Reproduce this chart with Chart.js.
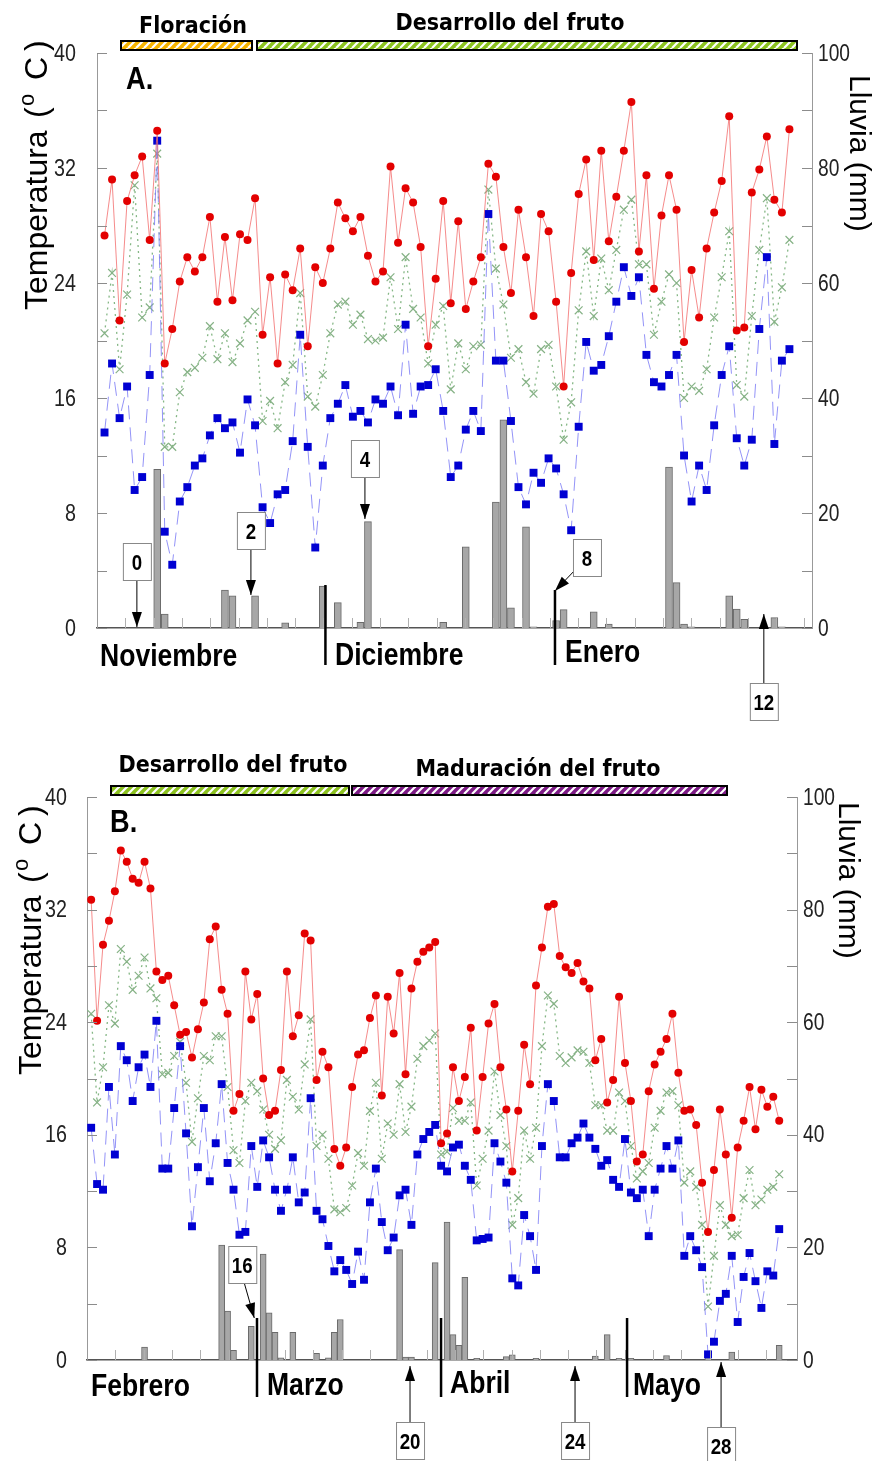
<!DOCTYPE html>
<html>
<head>
<meta charset="utf-8">
<script src="https://cdn.jsdelivr.net/npm/chart.js@4.4.0/dist/chart.umd.min.js"></script>
<style>
  html, body { margin: 0; padding: 0; background: #fff; }
  #wrap { position: relative; width: 882px; height: 1461px; }
  #chartA { position: absolute; left: 0; top: 0; }
  #chartB { position: absolute; left: 0; top: 730px; }
</style>
</head>
<body>
<div id="wrap">
  <canvas id="chartA" width="882" height="730"></canvas>
  <canvas id="chartB" width="882" height="731"></canvas>
</div>
<script>
// Panel A: 1 Nov - 31 Jan (daily values)
const maxA = [27.3,31.2,21.4,29.7,31.5,32.8,27.0,34.6,18.4,20.8, 24.1,25.8,24.8,25.8,28.6,22.7,27.2,22.8,27.4,27.0,
  29.9,20.4,24.4,18.4,24.6,23.5,26.4,19.6,25.1,24.0, 26.4,29.6,28.5,27.6,28.6,25.9,24.1,24.8,32.1,26.8,
  30.6,29.6,26.5,19.6,24.3,29.7,22.6,28.3,22.2,24.1, 25.8,32.3,31.4,26.5,23.3,29.1,25.8,21.7,28.8,27.6,
  22.7,16.8,24.7,30.2,32.6,25.6,33.2,26.9,30.0,33.2, 36.6,26.2,31.5,23.6,28.7,31.5,29.1,19.9,24.9,21.6,
  26.4,28.9,31.1,35.6,20.7,20.9,30.3,31.9,34.2,29.8, 28.9,34.7];
const minA = [13.6,18.4,14.6,16.8,9.6,10.5,17.6,33.9,6.7,4.4, 8.8,9.8,11.3,11.8,13.4,14.6,13.9,14.3,12.2,15.9,
  14.1,8.4,7.3,9.3,9.6,13.0,20.4,12.6,5.6,11.3, 14.6,15.6,16.9,14.7,15.1,14.3,15.9,15.6,16.8,14.8,
  21.1,14.9,16.8,16.9,18.0,15.1,10.5,11.3,13.8,15.1, 13.7,28.8,18.6,18.6,14.4,9.8,8.6,10.8,10.1,11.8,
  11.1,9.3,6.8,14.0,19.9,17.9,18.3,20.3,22.7,25.1, 23.1,24.4,19.0,17.1,16.8,17.6,19.0,12.0,8.8,11.3,
  9.6,14.1,17.6,19.6,13.2,11.3,13.1,20.8,25.8,12.8, 18.6,19.4];
const meanA = [20.5,24.7,18.0,23.2,30.8,21.6,22.3,33.0,12.6,12.6, 16.4,17.8,18.1,18.8,21.0,18.7,20.5,18.5,19.8,21.4,
  22.0,14.4,15.8,13.9,17.1,18.3,23.3,16.1,15.4,17.6, 20.5,22.5,22.7,21.1,21.8,20.1,20.0,20.2,24.4,20.8,
  25.8,22.2,21.6,18.4,21.1,22.4,16.6,19.8,18.0,19.6, 19.7,30.5,25.0,22.5,18.8,19.4,17.1,16.3,19.4,19.7,
  16.8,13.1,15.7,22.1,26.2,21.7,25.7,23.5,26.3,29.1, 29.8,25.3,25.3,20.4,22.7,24.6,24.0,16.0,16.8,16.5,
  18.0,21.6,24.4,27.6,16.9,16.1,21.7,26.3,29.9,21.3, 23.7,27.0];
const rainDaysA = [8,9,17,18,21,25,30,32,35,36,46,49,53,54,55,57,58,61,62,66,68,76,77,78,79,84,85,86,90,91];
const rainA =     [27.6,2.4,6.6,5.6,5.6,0.9,7.3,4.4,1.0,18.5,1.0,14.1,21.9,36.2,3.5,17.6,0.2,1.3,3.2,2.8,0.7,28.0,7.9,0.7,0.2,5.6,3.3,1.5,1.8,0.2];

// Panel B: 1 Feb - end of May (daily values)
const maxB = [32.7,24.1,29.5,31.2,33.3,36.2,35.4,34.2,33.9,35.4, 33.5,27.6,27.0,27.3,25.2,23.1,23.3,21.5,23.5,25.4,
  29.9,30.8,26.3,24.6,17.7,18.9,27.6,24.2,26.0,20.0, 17.4,17.7,20.6,27.6,23.0,24.5,30.3,29.8,19.9,21.9,
  20.8,15.0,13.8,15.1,19.4,21.7,22.0,24.3,25.9,18.8, 25.8,23.2,27.5,20.3,26.4,28.3,29.0,29.3,29.7,15.4,
  16.1,20.8,18.4,20.1,23.6,16.3,20.1,23.9,25.3,20.8, 17.8,13.4,17.7,22.4,19.6,26.6,29.3,32.2,32.4,28.7,
  27.9,27.5,28.2,26.9,26.4,21.3,22.8,18.3,19.9,25.8, 21.1,18.4,14.1,14.6,19.1,21.0,21.9,22.8,24.6,20.4,
  17.7,17.8,16.7,12.6,9.1,13.5,17.8,14.6,10.1,15.1, 17.0,19.4,16.4,19.2,18.0,18.7,17.0];
const minB = [16.5,12.5,12.1,19.4,14.6,22.3,21.3,18.4,20.8,21.7, 19.4,24.1,13.6,13.6,17.9,22.3,16.1,9.5,13.7,17.9,
  12.7,15.4,19.6,14.0,12.1,8.9,9.1,15.2,12.3,15.6, 14.4,12.1,10.6,12.1,14.4,11.2,11.9,18.6,10.6,10.0,
  8.1,6.3,7.1,6.4,5.4,7.7,5.7,11.2,13.6,9.8, 7.8,8.7,11.7,12.1,9.6,14.6,15.7,16.2,16.7,13.8,
  13.4,15.1,15.3,13.8,12.8,8.5,8.6,8.7,15.4,14.1, 12.6,5.8,5.3,10.3,8.8,6.4,15.2,19.6,18.4,14.4,
  14.4,15.4,15.8,16.8,15.8,15.0,13.8,14.2,12.8,12.3, 15.7,11.9,11.5,12.1,8.8,12.1,13.6,15.2,13.6,15.6,
  7.4,8.8,7.8,6.6,0.4,1.3,4.2,4.7,7.4,2.7, 5.9,7.6,5.6,3.7,6.3,6.0,9.3];
const meanB = [24.6,18.3,20.8,25.2,23.9,29.2,28.3,26.3,27.3,28.6, 26.4,25.7,20.3,20.4,21.6,22.6,19.7,15.5,18.6,21.6,
  21.3,23.0,23.0,19.4,14.9,14.0,18.4,19.7,19.1,17.8, 16.0,15.0,15.6,19.9,18.7,17.8,21.0,24.2,15.2,16.0,
  14.3,10.7,10.5,10.8,12.4,14.7,13.8,17.7,19.7,14.3, 16.8,16.0,19.6,16.2,18.0,21.4,22.3,22.7,23.2,14.6,
  14.8,17.9,17.0,17.0,18.3,12.4,14.3,16.3,20.5,17.4, 15.2,9.6,11.5,16.3,14.3,16.5,22.3,25.9,25.3,21.6,
  21.1,21.5,22.0,21.9,21.1,18.1,18.1,16.3,16.3,19.0, 18.4,15.2,12.9,13.4,14.0,16.5,17.7,19.0,19.1,18.1,
  12.6,13.4,12.3,9.6,3.8,7.4,11.0,9.6,8.8,8.9, 11.5,13.5,11.0,11.4,12.1,12.3,13.2];
const rainDaysB = [10,23,24,25,28,30,31,32,33,35,39,41,42,43,53,54,55,59,61,62,63,64,66,71,72,76,86,88,90,92,98,105,109,117];
const rainB =     [2.3,20.4,8.7,1.7,6.0,18.8,8.4,4.9,0.4,4.9,1.2,0.4,4.9,7.2,19.6,0.5,0.5,17.3,24.5,4.5,2.6,14.7,0.3,0.6,0.9,0.3,0.7,4.5,0.3,0.3,0.8,0.7,1.4,2.6];

const tempTicks = [0, 8, 16, 24, 32, 40];
const rainTicks = [0, 20, 40, 60, 80, 100];

// annotations (day positions)
const monthsA = ['Noviembre', 'Diciembre', 'Enero'];
const monthLinesA = [30.35, 60.85];
const weekLabelsA = ['0', '2', '4', '8', '12'];
const weekDaysA = [5.3, 20.45, 35.6, 60.85, 88.6];
const monthsB = ['Febrero', 'Marzo', 'Abril', 'Mayo'];
const monthLinesB = [28.96, 59.99, 91.35];
const weekLabelsB = ['16', '20', '24', '28'];
const weekDaysB = [28.5, 54.76, 82.58, 107.2];

const SANS = "'Liberation Sans',Arial,sans-serif";
const COND = "'DejaVu Sans Condensed','DejaVu Sans',sans-serif";

function pts(values) { return values.map((v, i) => ({ x: i + 1, y: v })); }
function rainPts(days, vals) { return days.map((d, i) => ({ x: d, y: vals[i] })); }

function stripes(color) {
  const c = document.createElement('canvas');
  c.width = 8; c.height = 8;
  const g = c.getContext('2d');
  g.fillStyle = color; g.fillRect(0, 0, 8, 8);
  g.strokeStyle = '#ffffff'; g.lineWidth = 2.2;
  for (let k = -8; k <= 16; k += 8) { g.beginPath(); g.moveTo(k, 8); g.lineTo(k + 8, 0); g.stroke(); }
  return c;
}

function line(ctx, x1, y1, x2, y2) { ctx.beginPath(); ctx.moveTo(x1, y1); ctx.lineTo(x2, y2); ctx.stroke(); }

// Arial-Narrow look: Liberation Sans squeezed horizontally
function narrow(ctx, text, x, y, font, sx, align, base) {
  ctx.save();
  ctx.translate(x, y); ctx.scale(sx, 1);
  ctx.font = font; ctx.textAlign = align || 'left'; ctx.textBaseline = base || 'alphabetic';
  ctx.fillText(text, 0, 0);
  ctx.restore();
}

function arrow(ctx, x1, y1, x2, y2) {
  ctx.strokeStyle = '#000'; ctx.fillStyle = '#000'; ctx.lineWidth = 1;
  line(ctx, x1, y1, x2, y2);
  const a = Math.atan2(y2 - y1, x2 - x1), L = 15, W = 5;
  ctx.beginPath();
  ctx.moveTo(x2, y2);
  ctx.lineTo(x2 - L * Math.cos(a) + W * Math.sin(a), y2 - L * Math.sin(a) - W * Math.cos(a));
  ctx.lineTo(x2 - L * Math.cos(a) - W * Math.sin(a), y2 - L * Math.sin(a) + W * Math.cos(a));
  ctx.closePath(); ctx.fill();
}

function box(ctx, cx, top, text) {
  const w = 28, h = 37;
  ctx.fillStyle = '#fff'; ctx.strokeStyle = '#888'; ctx.lineWidth = 1;
  ctx.fillRect(cx - w / 2, top, w, h); ctx.strokeRect(cx - w / 2 + 0.5, top + 0.5, w, h);
  ctx.fillStyle = '#000';
  narrow(ctx, text, cx, top + h / 2 + 8, 'bold 22px ' + SANS, 0.85, 'center');
}

// parts: [text, offset along the text, size, raise]
function title(ctx, x, y, angle, parts) {
  ctx.save();
  ctx.translate(x, y); ctx.rotate(angle);
  ctx.fillStyle = '#000'; ctx.textAlign = 'left'; ctx.textBaseline = 'alphabetic';
  parts.forEach(p => { ctx.font = p[2] + 'px ' + SANS; ctx.fillText(p[0], p[1], -(p[3] || 0)); });
  ctx.restore();
}

const decor = {
  id: 'decor',
  afterDraw(chart, args, o) {
    const ctx = chart.ctx, ca = chart.chartArea;
    const xs = chart.scales.x, ys = chart.scales.y, y2 = chart.scales.y2;
    ctx.save();
    // inward tick marks
    ctx.strokeStyle = '#8c8c8c'; ctx.lineWidth = 1;
    for (let v = 0; v <= 40; v += 4) { const p = Math.round(ys.getPixelForValue(v)) + 0.5; line(ctx, ca.left, p, ca.left + 10, p); }
    for (let v = 0; v <= 100; v += 10) { const p = Math.round(y2.getPixelForValue(v)) + 0.5; line(ctx, ca.right - 10, p, ca.right, p); }
    ctx.strokeStyle = '#b0b0b0';
    for (let px = ca.left + 28.3; px < ca.right - 5; px += 28.3) line(ctx, Math.round(px) + 0.5, ca.bottom, Math.round(px) + 0.5, ca.bottom - 10);

    // tick labels
    ctx.fillStyle = '#222';
    tempTicks.forEach(v => narrow(ctx, String(v), ca.left - o.padL, ys.getPixelForValue(v) + 1, '24px ' + SANS, 0.82, 'right', 'middle'));
    rainTicks.forEach(v => narrow(ctx, String(v), ca.right + 6, y2.getPixelForValue(v) + 1, '24px ' + SANS, 0.8, 'left', 'middle'));

    // phase bars
    o.phases.forEach(p => {
      ctx.fillStyle = ctx.createPattern(stripes(p.color), 'repeat');
      ctx.fillRect(p.x1, p.y, p.x2 - p.x1, 9);
      ctx.strokeStyle = '#000'; ctx.lineWidth = 2;
      ctx.strokeRect(p.x1, p.y, p.x2 - p.x1, 9);
      ctx.fillStyle = '#000';
      ctx.font = 'bold 23px ' + COND; ctx.textAlign = 'center'; ctx.textBaseline = 'alphabetic';
      ctx.fillText(p.label, p.lx, p.ly);
    });

    // panel letter
    ctx.fillStyle = '#000';
    narrow(ctx, o.letter, o.letterX, o.letterY, 'bold 32px ' + SANS, 0.85, 'left');

    // month separators and names
    ctx.strokeStyle = '#000'; ctx.lineWidth = 2.5;
    o.monthLines.forEach((d, i) => {
      const px = xs.getPixelForValue(d);
      line(ctx, px, o.monthLineTop[i], px, ca.bottom + 37);
    });
    o.months.forEach((m, i) => narrow(ctx, m, o.monthX[i], o.monthY[i], 'bold 32px ' + SANS, 0.83, 'left'));

    // week markers
    o.weeks.forEach(w => {
      const px = xs.getPixelForValue(w.day);
      if (w.below) {
        arrow(ctx, px, w.boxTop, px, w.tip);
        box(ctx, px, w.boxTop, w.label);
      } else {
        const bx = px + (w.dx || 0);
        arrow(ctx, bx + (w.sx || 0), w.boxTop + 37 + (w.sy || 0), px, w.tip);
        box(ctx, bx, w.boxTop, w.label);
      }
    });

    // axis titles
    const L = o.leftTitle, R = o.rightTitle;
    title(ctx, L[0], L[1], -Math.PI / 2,
      [['Temperatura', 0, 32], ['(', 192, 32], ['o', 204, 22, 13], ['C', 230, 32], [')', 259, 32]]);
    title(ctx, R[0], R[1], Math.PI / 2, [['Lluvia (mm)', 0, 30]]);
    ctx.restore();
  }
};

function makePanel(id, d) {
  return new Chart(document.getElementById(id), {
    type: 'line',
    data: {
      datasets: [
        { label: 'Máxima', data: pts(d.max), yAxisID: 'y', order: 0,
          borderColor: 'rgba(242,110,110,0.8)', borderWidth: 1, tension: 0,
          pointStyle: 'circle', pointRadius: 4, pointBackgroundColor: '#e30000', pointBorderWidth: 0 },
        { label: 'Mínima', data: pts(d.min), yAxisID: 'y', order: 1,
          borderColor: 'rgba(120,120,245,0.8)', borderWidth: 1, borderDash: [14, 8], tension: 0,
          pointStyle: 'rect', pointRadius: 5.6, pointBackgroundColor: '#0000d2', pointBorderWidth: 0 },
        { label: 'Media', data: pts(d.mean), yAxisID: 'y', order: 2,
          borderColor: 'rgba(120,175,120,0.9)', borderWidth: 1.3, borderDash: [2, 4], tension: 0,
          pointStyle: 'crossRot', pointRadius: 5.5, pointBorderColor: '#86b286', pointBorderWidth: 1.2 },
        { type: 'bar', label: 'Lluvia', data: rainPts(d.rainDays, d.rain), yAxisID: 'y2', order: 3,
          backgroundColor: '#a7a7a7', borderColor: '#6a6a6a', borderWidth: 1, barThickness: d.barW }
      ]
    },
    options: {
      responsive: false, animation: false, devicePixelRatio: 1,
      layout: { padding: { top: d.top, left: 0, right: 0, bottom: 0 } },
      plugins: { legend: { display: false }, tooltip: { enabled: false }, decor: d.decor },
      scales: {
        x: { type: 'linear', min: d.xMin, max: d.xMax, offset: false,
          grid: { display: false, drawTicks: false }, ticks: { display: false },
          border: { display: true, color: '#555', width: 1.5 },
          afterFit: s => { s.height = d.xH; } },
        y: { position: 'left', min: 0, max: 40,
          ticks: { display: false }, grid: { display: false, drawTicks: false },
          border: { color: '#999', width: 1 },
          afterFit: s => { s.width = d.yW; } },
        y2: { position: 'right', min: 0, max: 100,
          ticks: { display: false }, grid: { display: false, drawTicks: false },
          border: { color: '#999', width: 1 },
          afterFit: s => { s.width = d.y2W; } }
      }
    },
    plugins: [decor]
  });
}

makePanel('chartA', {
  max: maxA, min: minA, mean: meanA, rainDays: rainDaysA, rain: rainA, barW: 7,
  top: 53, xH: 102, yW: 97, y2W: 70, xMin: 0, xMax: 95,
  decor: {
    padL: 21, letter: 'A.', letterX: 126, letterY: 89,
    phases: [
      { label: 'Floración', color: '#f7b500', x1: 121, x2: 252, y: 41, lx: 193, ly: 33 },
      { label: 'Desarrollo del fruto', color: '#8cc21f', x1: 257, x2: 797, y: 41, lx: 510, ly: 30 }
    ],
    monthLines: monthLinesA, monthLineTop: [585, 590],
    months: monthsA, monthX: [100, 335, 565], monthY: [666, 665, 662],
    weeks: [
      { label: weekLabelsA[0], day: weekDaysA[0], boxTop: 543, tip: 627 },
      { label: weekLabelsA[1], day: weekDaysA[1], boxTop: 512, tip: 595 },
      { label: weekLabelsA[2], day: weekDaysA[2], boxTop: 440, tip: 519 },
      { label: weekLabelsA[3], day: weekDaysA[3], boxTop: 539, tip: 591, dx: 32, sx: -10, sy: -8 },
      { label: weekLabelsA[4], day: weekDaysA[4], boxTop: 683, tip: 614, below: true }
    ],
    leftTitle: [47, 310], rightTitle: [850, 75]
  }
});

makePanel('chartB', {
  max: maxB, min: minB, mean: meanB, rainDays: rainDaysB, rain: rainB, barW: 6,
  top: 67, xH: 101, yW: 87, y2W: 85, xMin: 0.3, xMax: 120,
  decor: {
    padL: 20, letter: 'B.', letterX: 110, letterY: 102,
    phases: [
      { label: 'Desarrollo del fruto', color: '#8cc21f', x1: 111, x2: 349, y: 56, lx: 233, ly: 42 },
      { label: 'Maduración del fruto', color: '#7d1a86', x1: 352, x2: 727, y: 56, lx: 538, ly: 46 }
    ],
    monthLines: monthLinesB, monthLineTop: [588, 588, 588],
    months: monthsB, monthX: [91, 267, 450, 633], monthY: [666, 665, 663, 665],
    weeks: [
      { label: weekLabelsB[0], day: weekDaysB[0], boxTop: 516, tip: 588, dx: -12, sx: 2 },
      { label: weekLabelsB[1], day: weekDaysB[1], boxTop: 692, tip: 636, below: true },
      { label: weekLabelsB[2], day: weekDaysB[2], boxTop: 692, tip: 636, below: true },
      { label: weekLabelsB[3], day: weekDaysB[3], boxTop: 697, tip: 632, below: true }
    ],
    leftTitle: [41, 345], rightTitle: [839, 72]
  }
});
</script>
</body>
</html>
